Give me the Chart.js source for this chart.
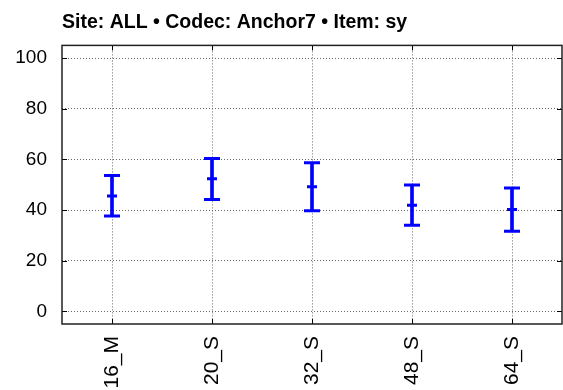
<!DOCTYPE html>
<html>
<head>
<meta charset="utf-8">
<script src="https://cdn.jsdelivr.net/npm/chart.js@4.4.0/dist/chart.umd.min.js"></script>
<style>
html, body { margin: 0; padding: 0; background: #fff; }
</style>
</head>
<body>
<canvas id="myChart" width="563" height="390"></canvas>
<script>
// values
const categories = ['16_M', '20_S', '32_S', '48_S', '64_S']
const means = [45.5, 52.3, 49.2, 41.9, 40.2]
const upper = [53.6, 60.3, 58.7, 49.9, 48.7]
const lower = [37.6, 44.2, 39.7, 34.0, 31.6]
const yTicks = [0, 20, 40, 60, 80, 100]
const titleText = 'Site: ALL \u2022 Codec: Anchor7 \u2022 Item: sy'

const blue = '#0000ff'

Chart.defaults.font.family = "'Liberation Sans', Arial, sans-serif"
Chart.defaults.color = '#000'

// box round the plot and small inward ticks, like the original
const frame = {
    id: 'frame',
    afterDraw(chart) {
        const { ctx, chartArea: a, scales: { x, y } } = chart
        ctx.save()
        ctx.strokeStyle = '#000'
        ctx.lineWidth = 1
        ctx.beginPath()
        x.ticks.forEach((t, i) => {
            const px = Math.round(x.getPixelForTick(i)) + 0.5
            ctx.moveTo(px, a.bottom); ctx.lineTo(px, a.bottom - 5)
            ctx.moveTo(px, a.top); ctx.lineTo(px, a.top + 5)
        })
        y.ticks.forEach((t) => {
            const py = Math.round(y.getPixelForValue(t.value)) + 0.5
            ctx.moveTo(a.left, py); ctx.lineTo(a.left + 5, py)
            ctx.moveTo(a.right, py); ctx.lineTo(a.right - 5, py)
        })
        ctx.stroke()
        ctx.strokeStyle = '#222'
        ctx.lineWidth = 1.5
        ctx.strokeRect(a.left, a.top, a.right - a.left, a.bottom - a.top)
        ctx.restore()
    }
}

const capStyle = (vals, r) => ({
    type: 'line',
    data: vals,
    showLine: false,
    pointStyle: 'line',
    pointRadius: r,
    pointHoverRadius: r,
    pointBorderWidth: 3,
    pointHoverBorderWidth: 3,
    pointBorderColor: blue,
    borderColor: blue,
    order: 0
})

new Chart(document.getElementById('myChart'), {
    type: 'bar',
    data: {
        labels: categories,
        datasets: [
            {
                data: lower.map((v, i) => [v, upper[i]]),
                backgroundColor: blue,
                borderWidth: 0,
                barThickness: 3,
                order: 1
            },
            capStyle(upper, 8),
            capStyle(lower, 8),
            capStyle(means, 5)
        ]
    },
    options: {
        responsive: false,
        animation: false,
        devicePixelRatio: 1,
        // the cap points would otherwise add padding round the plot
        layout: { autoPadding: false, padding: { left: 0, right: 1, top: 0, bottom: 0 } },
        plugins: {
            legend: { display: false },
            tooltip: { enabled: false },
            title: {
                display: true,
                text: titleText,
                align: 'start',
                fullSize: false,
                color: '#000',
                font: { family: "'Liberation Sans', Arial, sans-serif", size: 19.5, weight: 'bold' },
                padding: { top: 11, bottom: 11 }
            }
        },
        scales: {
            x: {
                offset: true,
                grid: { offset: false, color: '#666', drawTicks: false },
                border: { display: false, dash: [1, 2] },
                ticks: { minRotation: 90, maxRotation: 90, autoSkip: false, padding: 12, font: { size: 21 } },
                afterFit: (s) => { s.height = 66; s.paddingLeft = 0; s.paddingRight = 0 }
            },
            y: {
                min: -5,
                max: 105,
                grid: { color: '#666', drawTicks: false },
                border: { display: false, dash: [1, 2] },
                ticks: { padding: 15, font: { size: 19 } },
                afterBuildTicks: (s) => { s.ticks = yTicks.map(v => ({ value: v })) },
                afterFit: (s) => { s.width = 62 }
            }
        }
    },
    plugins: [frame]
})
</script>
</body>
</html>
